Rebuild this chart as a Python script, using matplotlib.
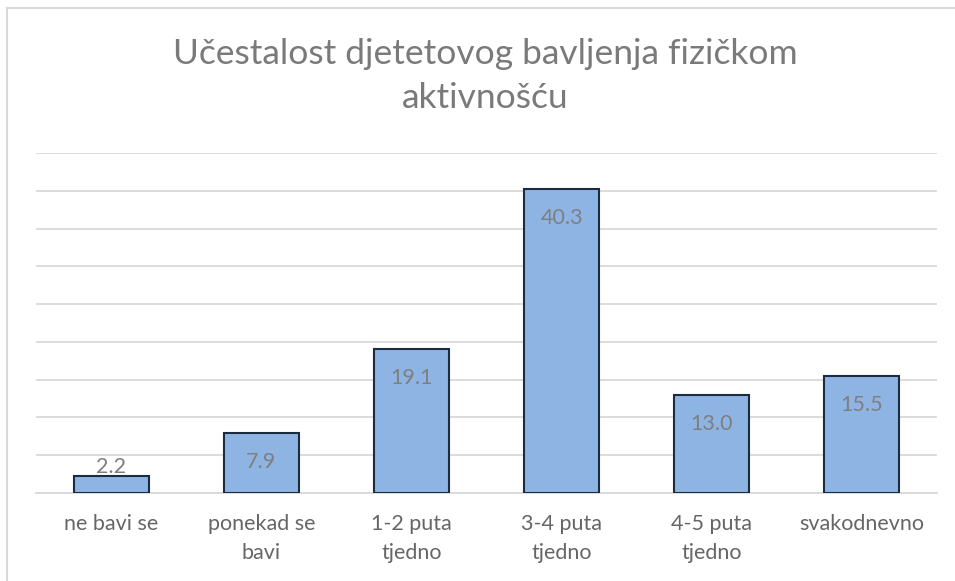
import matplotlib.pyplot as plt
from matplotlib.lines import Line2D

kategorije = ["ne bavi se", "ponekad se\nbavi", "1-2 puta\ntjedno",
              "3-4 puta\ntjedno", "4-5 puta\ntjedno", "svakodnevno"]
postotci = [2.2, 7.9, 19.1, 40.3, 13.0, 15.5]
naslov = ["Učestalost djetetovog bavljenja fizičkom", "aktivnošću"]

plt.rcParams['font.family'] = ['Lato', 'DejaVu Sans']

fig = plt.figure(figsize=(9.55, 5.81), dpi=100)
ax = fig.add_axes([36/955, 1 - 493/581, (937 - 36)/955, (493 - 153)/581])

x = range(len(kategorije))
ax.bar(x, postotci, width=0.5, color='#8eb4e3', edgecolor='#1b2c40',
       linewidth=1.5, zorder=3)

for xi, v in zip(x, postotci):
    if v < 5:
        ax.annotate(f"{v:.1f}", (xi, v), xytext=(0, 7), textcoords='offset points',
                    ha='center', va='center', fontsize=15.5, color='#7f7f7f', zorder=4)
    else:
        ax.annotate(f"{v:.1f}", (xi, v), xytext=(0, -21), textcoords='offset points',
                    ha='center', va='center', fontsize=15.5, color='#7f7f7f', zorder=4)

ax.set_xlim(-0.5, len(kategorije) - 0.5)
ax.set_ylim(0, 45)
ax.set_yticks(range(0, 46, 5))
ax.set_yticklabels([])
ax.tick_params(axis='y', length=0)
ax.grid(axis='y', color='#d9d9d9', linewidth=1.3, zorder=0)
ax.set_xticks(list(x))
ax.set_xticklabels(kategorije, fontsize=15.5, color='#666666', linespacing=1.55)
ax.tick_params(axis='x', length=0, pad=15)
for s in ['top', 'right', 'left']:
    ax.spines[s].set_visible(False)
ax.spines['bottom'].set_color('#d9d9d9')
ax.spines['bottom'].set_linewidth(1.3)

# naslov u dva reda, svaki na svojoj baznoj liniji
for red, y_px in zip(naslov, [64, 108]):
    fig.text(485/955, 1 - y_px/581, red, ha='center', va='baseline', fontsize=25.5,
             color='#7a7a7a')

# okvir grafikona (vidljivi samo gornji i lijevi rub)
fig.add_artist(Line2D([7/955, 1], [1 - 8/581, 1 - 8/581], color='#d9d9d9', linewidth=1.5))
fig.add_artist(Line2D([7/955, 7/955], [0, 1 - 8/581], color='#d9d9d9', linewidth=1.5))

fig.savefig('out.png', dpi=100)
